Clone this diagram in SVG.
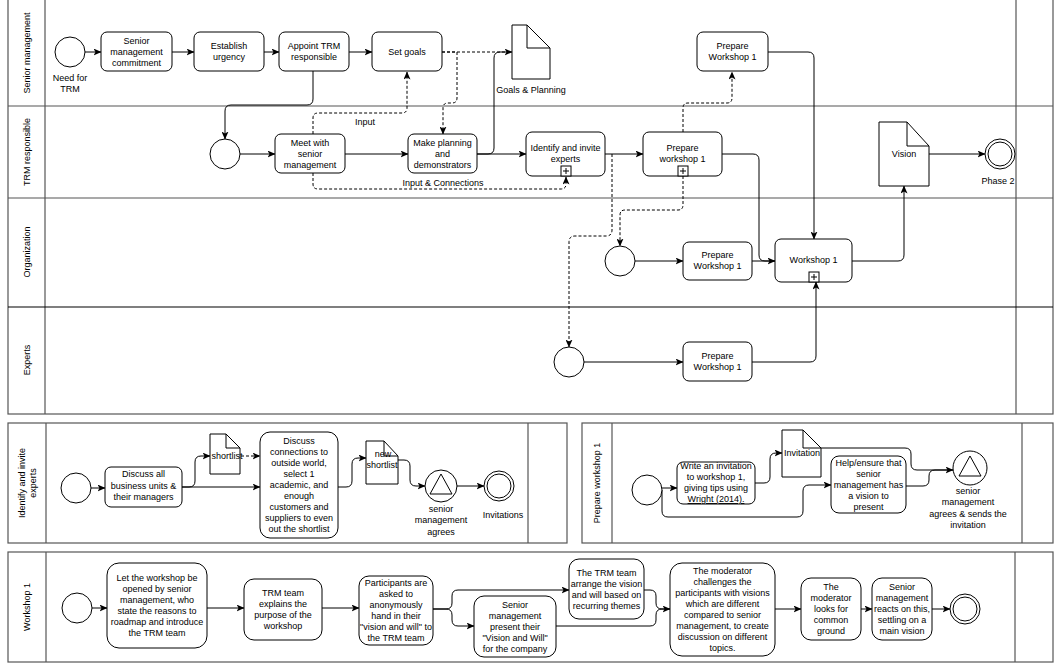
<svg xmlns="http://www.w3.org/2000/svg" width="1059" height="664" viewBox="0 0 1059 664">
<style>
text{font-family:"Liberation Sans",Arial,sans-serif;font-size:9px;fill:#000}
.c{text-anchor:middle}
.pool{fill:none;stroke:#555;stroke-width:1.2}
.task{fill:#fff;stroke:#000;stroke-width:1}
.ev{fill:#fff;stroke:#000;stroke-width:1}
.doc{fill:#fff;stroke:#000;stroke-width:1}
.f{fill:none;stroke:#000;stroke-width:1}
.a{marker-end:url(#ar)}
.d{stroke-dasharray:3 2}
</style>
<defs>
<marker id="ar" markerWidth="8" markerHeight="7" refX="7.5" refY="3.5" orient="auto" markerUnits="userSpaceOnUse">
<path d="M0,0 L8,3.5 L0,7 L2,3.5 Z" fill="#000"/>
</marker>
</defs>
<rect width="1059" height="664" fill="#fff"/>

<g id="pool-main">
<rect class="pool" x="8" y="-5" width="1045" height="419"/>
<line class="pool" x1="45" y1="-5" x2="45" y2="414"/>
<line class="pool" x1="1016" y1="-5" x2="1016" y2="414"/>
<line class="pool" x1="8" y1="106" x2="1053" y2="106"/>
<line class="pool" x1="8" y1="198" x2="1053" y2="198"/>
<line class="pool" x1="8" y1="307" x2="1053" y2="307" style="stroke:#000"/>
<text class="c" transform="translate(30,53) rotate(-90)">Senior management</text>
<text class="c" transform="translate(30,152) rotate(-90)">TRM responsible</text>
<text class="c" transform="translate(30,252) rotate(-90)">Organization</text>
<text class="c" transform="translate(30,360) rotate(-90)">Experts</text>
</g>

<g id="pool-identify">
<rect class="pool" x="8" y="423" width="559" height="120"/>
<line class="pool" x1="46" y1="423" x2="46" y2="543"/>
<line class="pool" x1="528" y1="423" x2="528" y2="543"/>
<text class="c" transform="translate(26,483) rotate(-90)"><tspan x="0" dy="-1">Identify and invite</tspan><tspan x="0" dy="11">experts</tspan></text>
</g>

<g id="pool-prepare">
<rect class="pool" x="582" y="423" width="471" height="120"/>
<line class="pool" x1="612" y1="423" x2="612" y2="543"/>
<line class="pool" x1="1022" y1="423" x2="1022" y2="543"/>
<text class="c" transform="translate(600,483) rotate(-90)">Prepare workshop 1</text>
</g>

<g id="pool-workshop">
<rect class="pool" x="8" y="552" width="1045" height="110"/>
<line class="pool" x1="46" y1="552" x2="46" y2="662"/>
<line class="pool" x1="1015" y1="552" x2="1015" y2="662"/>
<text class="c" transform="translate(30,607) rotate(-90)">Workshop 1</text>
</g>

<g id="connectors">
<path class="f a" d="M85,52 H101"/>
<path class="f a" d="M172,52 H194"/>
<path class="f a" d="M264,52 H279"/>
<path class="f a" d="M349,52 H372"/>
<path class="f a" d="M313,71 V99 Q313,105 307,105 H231 Q225,105 225,111 V139"/>
<path class="f a" d="M240,154 H275"/>
<path class="f a" d="M345,154 H408"/>
<path class="f a" d="M477,154 H526"/>
<path class="f a" d="M605,154 H643"/>
<path class="f" d="M477,154 H488 Q494,154 494,148 V58 Q494,52 500,52 H512"/>
<path class="f d a" d="M442,52 H512"/>
<path class="f d a" d="M442,52 H457 V98 Q457,103 452,103 H448 Q443,103 443,108 V134"/>
<path class="f d a" d="M313,134 V118 Q313,113 318,113 H402 Q407,113 407,108 V72"/>
<path class="f d a" d="M313,173 V184 Q313,189 318,189 H561 Q566,189 566,184 V177"/>
<path class="f d a" d="M683,132 V108 Q683,103 688,103 H727 Q732,103 732,98 V72"/>
<path class="f a" d="M768,52 H808 Q814,52 814,58 V239"/>
<path class="f d a" d="M612,154 V230 Q612,236 606,236 H575 Q569,236 569,242 V347"/>
<path class="f d a" d="M683,176 V205 Q683,210 678,210 H625 Q620,210 620,215 V246"/>
<path class="f a" d="M635,261 H683"/>
<path class="f a" d="M752,261 H775"/>
<path class="f" d="M722,154 H753 Q759,154 759,160 V255 Q759,261 765,261 H775"/>
<path class="f a" d="M852,261 H898 Q904,261 904,255 V186"/>
<path class="f a" d="M929,154 H985"/>
<path class="f a" d="M584,362 H683"/>
<path class="f a" d="M752,362 H810 Q816,362 816,356 V282"/>

<path class="f a" d="M91,488 H105"/>
<path class="f a" d="M182,487 H260"/>
<path class="f a" d="M182,487 H189 Q195,487 195,481 V462 Q195,456 201,456 H210"/>
<path class="f d a" d="M241,456 H260"/>
<path class="f a" d="M338,487 H346 Q352,487 352,481 V464 Q352,458 358,458 H366"/>
<path class="f a" d="M398,460 H404 Q410,460 410,466 V480 Q410,486 416,486 H425"/>
<path class="f a" d="M457,486 H484"/>

<path class="f a" d="M662,488 H677"/>
<path class="f a" d="M662,490 V511 Q662,517 668,517 H797 Q803,517 803,511 V491 Q803,485 809,485 H831"/>
<path class="f a" d="M755,483 H764 Q770,483 770,477 V459 Q770,453 776,453 H782"/>
<path class="f a" d="M821,448 H905 Q911,448 911,454 V464 Q911,470 917,470 H953"/>
<path class="f" d="M906,486 H923 Q929,486 929,480 V476 Q929,470 935,470 H953"/>

<path class="f a" d="M92,608 H107"/>
<path class="f a" d="M207,608 H244"/>
<path class="f a" d="M322,608 H359"/>
<path class="f a" d="M433,609 H446 Q452,609 452,603 V596 Q452,590 458,590 H569"/>
<path class="f a" d="M433,609 H446 Q452,609 452,615 V620 Q452,626 458,626 H474"/>
<path class="f a" d="M644,590 H650 Q656,590 656,596 V603 Q656,609 662,609 H670"/>
<path class="f" d="M556,626 H650 Q656,626 656,620 V615 Q656,609 662,609 H670"/>
<path class="f a" d="M775,609 H801"/>
<path class="f a" d="M861,609 H872"/>
<path class="f a" d="M932,609 H950"/>
</g>

<g id="start-need"><circle class="ev" cx="70" cy="52" r="15"/><text class="c" x="70" y="81">Need for</text><text class="c" x="70" y="92">TRM</text></g>
<g id="t-commit"><rect class="task" x="101" y="32" width="71" height="39" rx="6"/><text class="c"><tspan x="136.5" y="44">Senior</tspan><tspan x="136.5" y="55">management</tspan><tspan x="136.5" y="66">commitment</tspan></text></g>
<g id="t-urgency"><rect class="task" x="194" y="32" width="70" height="39" rx="6"/><text class="c"><tspan x="229" y="49">Establish</tspan><tspan x="229" y="60">urgency</tspan></text></g>
<g id="t-appoint"><rect class="task" x="279" y="32" width="70" height="39" rx="6"/><text class="c"><tspan x="314" y="49">Appoint TRM</tspan><tspan x="314" y="60">responsible</tspan></text></g>
<g id="t-goals"><rect class="task" x="372" y="32" width="70" height="39" rx="6"/><text class="c" x="407" y="55">Set goals</text></g>
<g id="doc-goals"><path class="doc" d="M512,25 H527 L550,48 V79 H512 Z"/><path class="f" d="M527,25 V48 H550"/><text class="c" x="531" y="93">Goals &amp; Planning</text></g>
<g id="t-prep-top"><rect class="task" x="697" y="32" width="71" height="39" rx="6"/><text class="c"><tspan x="732.5" y="49">Prepare</tspan><tspan x="732.5" y="60">Workshop 1</tspan></text></g>

<g id="start-trm"><circle class="ev" cx="225" cy="154" r="15"/></g>
<g id="t-meet"><rect class="task" x="275" y="134" width="70" height="39" rx="6"/><text class="c"><tspan x="310" y="146">Meet with</tspan><tspan x="310" y="157">senior</tspan><tspan x="310" y="168">management</tspan></text></g>
<text x="355" y="125">Input</text>
<g id="t-planning"><rect class="task" x="408" y="134" width="69" height="39" rx="6"/><text class="c"><tspan x="442.5" y="146">Make planning</tspan><tspan x="442.5" y="157">and</tspan><tspan x="442.5" y="168">demonstrators</tspan></text></g>
<text class="c" x="443" y="186">Input &amp; Connections</text>
<g id="t-identify"><rect class="task" x="526" y="132" width="79" height="44" rx="6"/><text class="c"><tspan x="565.5" y="151">Identify and invite</tspan><tspan x="565.5" y="162">experts</tspan></text><rect class="task" x="561" y="166" width="10" height="10"/><path class="f" d="M563,171 H569 M566,168 V174"/></g>
<g id="t-prep-trm"><rect class="task" x="643" y="132" width="79" height="44" rx="6"/><text class="c"><tspan x="682.5" y="151">Prepare</tspan><tspan x="682.5" y="162">workshop 1</tspan></text><rect class="task" x="678" y="166" width="10" height="10"/><path class="f" d="M680,171 H686 M683,168 V174"/></g>
<g id="doc-vision"><path class="doc" d="M879,122 H907 L929,146 V186 H879 Z"/><path class="f" d="M907,122 V146 H929"/><text class="c" x="904" y="157">Vision</text></g>
<g id="end-phase2"><circle class="ev" cx="1000" cy="154" r="15"/><circle class="ev" cx="1000" cy="154" r="12"/><text class="c" x="998" y="184">Phase 2</text></g>

<g id="start-org"><circle class="ev" cx="620" cy="261" r="15"/></g>
<g id="t-prep-org"><rect class="task" x="683" y="242" width="69" height="38" rx="6"/><text class="c"><tspan x="717.5" y="257.5">Prepare</tspan><tspan x="717.5" y="269">Workshop 1</tspan></text></g>
<g id="t-workshop1"><rect class="task" x="775" y="239" width="77" height="43" rx="6"/><text class="c" x="813.5" y="263">Workshop 1</text><rect class="task" x="809" y="272" width="10" height="10"/><path class="f" d="M811,277 H817 M814,274 V280"/></g>

<g id="start-exp"><circle class="ev" cx="569" cy="362" r="15"/></g>
<g id="t-prep-exp"><rect class="task" x="683" y="342" width="69" height="39" rx="6"/><text class="c"><tspan x="717.5" y="359">Prepare</tspan><tspan x="717.5" y="370">Workshop 1</tspan></text></g>

<g id="s2-start"><circle class="ev" cx="76" cy="488" r="15"/></g>
<g id="s2-discuss"><rect class="task" x="105" y="467" width="77" height="40" rx="6"/><text class="c"><tspan x="143.5" y="477">Discuss all</tspan><tspan x="143.5" y="488.5">business units &amp;</tspan><tspan x="143.5" y="500">their managers</tspan></text></g>
<g id="s2-shortlist"><path class="doc" d="M210,434 H226 L240,448 V474 H210 Z"/><path class="f" d="M226,434 V448 H240"/><text class="c" x="227" y="459">shortlist</text></g>
<g id="s2-connections"><rect class="task" x="260" y="432" width="78" height="106" rx="10"/><text class="c"><tspan x="299" y="444">Discuss</tspan><tspan x="299" y="455">connections to</tspan><tspan x="299" y="466">outside world,</tspan><tspan x="299" y="477">select 1</tspan><tspan x="299" y="488">academic, and</tspan><tspan x="299" y="499">enough</tspan><tspan x="299" y="510">customers and</tspan><tspan x="299" y="521">suppliers to even</tspan><tspan x="299" y="532">out the shortlist</tspan></text></g>
<g id="s2-newshortlist"><path class="doc" d="M366,441 H384 L398,456 V484 H366 Z"/><path class="f" d="M384,441 V456 H398"/><text class="c"><tspan x="383" y="457">new</tspan><tspan x="382" y="468">shortlist</tspan></text></g>
<g id="s2-agree"><circle class="ev" cx="441" cy="486" r="16"/><path class="f" d="M441,474 L430,494 H452 Z"/><text class="c"><tspan x="441" y="512">senior</tspan><tspan x="441" y="523">management</tspan><tspan x="441" y="535">agrees</tspan></text></g>
<g id="s2-end"><circle class="ev" cx="499" cy="486" r="15"/><circle class="ev" cx="499" cy="486" r="12"/><text class="c" x="503" y="518">Invitations</text></g>

<g id="s3-start"><circle class="ev" cx="647" cy="490" r="15"/></g>
<g id="s3-write"><rect class="task" x="677" y="462" width="78" height="42" rx="6"/><text class="c"><tspan x="716" y="469">Write an invitation</tspan><tspan x="716" y="480">to workshop 1,</tspan><tspan x="716" y="491">giving tips using</tspan><tspan x="716" y="502" text-decoration="underline">Wright (2014).</tspan></text></g>
<g id="s3-invitation"><path class="doc" d="M782,430 H803 L821,448 V477 H782 Z"/><path class="f" d="M803,430 V448 H821"/><text class="c" x="802" y="456">Invitation</text></g>
<g id="s3-help"><rect class="task" x="831" y="456" width="75" height="57" rx="8"/><text class="c"><tspan x="868.5" y="466">Help/ensure that</tspan><tspan x="868.5" y="477">senior</tspan><tspan x="868.5" y="488">management has</tspan><tspan x="868.5" y="499">a vision to</tspan><tspan x="868.5" y="510">present</tspan></text></g>
<g id="s3-agree"><circle class="ev" cx="970" cy="468" r="17"/><path class="f" d="M970,456 L959,476 H981 Z"/><text class="c"><tspan x="968" y="494">senior</tspan><tspan x="968" y="505">management</tspan><tspan x="968" y="517">agrees &amp; sends the</tspan><tspan x="968" y="528">invitation</tspan></text></g>

<g id="s4-start"><circle class="ev" cx="77" cy="608" r="15"/></g>
<g id="s4-open"><rect class="task" x="107" y="563" width="100" height="85" rx="12"/><text class="c"><tspan x="157" y="581">Let the workshop be</tspan><tspan x="157" y="592">opened by senior</tspan><tspan x="157" y="603">management, who</tspan><tspan x="157" y="614">state the reasons to</tspan><tspan x="157" y="625">roadmap and introduce</tspan><tspan x="157" y="636">the TRM team</tspan></text></g>
<g id="s4-explain"><rect class="task" x="244" y="579" width="78" height="61" rx="10"/><text class="c"><tspan x="283" y="596">TRM team</tspan><tspan x="283" y="607">explains the</tspan><tspan x="283" y="618">purpose of the</tspan><tspan x="283" y="629">workshop</tspan></text></g>
<g id="s4-participants"><rect class="task" x="359" y="576" width="74" height="69" rx="10"/><text class="c"><tspan x="396" y="586">Participants are</tspan><tspan x="396" y="597">asked to</tspan><tspan x="396" y="608">anonymously</tspan><tspan x="396" y="619">hand in their</tspan><tspan x="396" y="630">"vision and will" to</tspan><tspan x="396" y="641">the TRM team</tspan></text></g>
<g id="s4-present"><rect class="task" x="474" y="596" width="82" height="61" rx="10"/><text class="c"><tspan x="515" y="608">Senior</tspan><tspan x="515" y="619">management</tspan><tspan x="515" y="630">present their</tspan><tspan x="515" y="641">"Vision and Will"</tspan><tspan x="515" y="652">for the company</tspan></text></g>
<g id="s4-arrange"><rect class="task" x="569" y="559" width="75" height="60" rx="10"/><text class="c"><tspan x="606.5" y="576">The TRM team</tspan><tspan x="606.5" y="587">arrange the vision</tspan><tspan x="606.5" y="598">and will based on</tspan><tspan x="606.5" y="609">recurring themes</tspan></text></g>
<g id="s4-challenge"><rect class="task" x="670" y="563" width="105" height="93" rx="12"/><text class="c"><tspan x="722.5" y="574">The moderator</tspan><tspan x="722.5" y="585">challenges the</tspan><tspan x="722.5" y="596">participants with visions</tspan><tspan x="722.5" y="607">which are different</tspan><tspan x="722.5" y="618">compared to senior</tspan><tspan x="722.5" y="629">management, to create</tspan><tspan x="722.5" y="640">discussion on different</tspan><tspan x="722.5" y="651">topics.</tspan></text></g>
<g id="s4-common"><rect class="task" x="801" y="578" width="60" height="62" rx="10"/><text class="c"><tspan x="831" y="590">The</tspan><tspan x="831" y="601">moderator</tspan><tspan x="831" y="612">looks for</tspan><tspan x="831" y="623">common</tspan><tspan x="831" y="634">ground</tspan></text></g>
<g id="s4-react"><rect class="task" x="872" y="578" width="60" height="62" rx="10"/><text class="c"><tspan x="902" y="590">Senior</tspan><tspan x="902" y="601">management</tspan><tspan x="902" y="612">reacts on this,</tspan><tspan x="902" y="623">settling on a</tspan><tspan x="902" y="634">main vision</tspan></text></g>
<g id="s4-end"><circle class="ev" cx="965" cy="609" r="15"/><circle class="ev" cx="965" cy="609" r="12"/></g>
</svg>
